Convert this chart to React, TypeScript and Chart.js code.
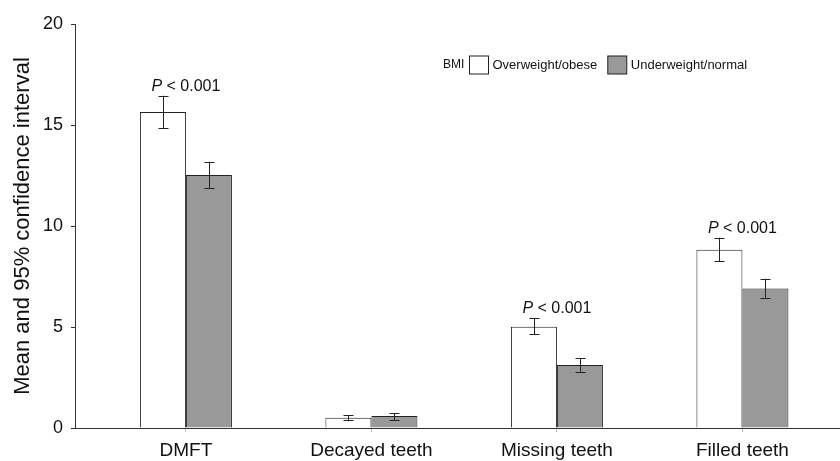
import React, { useEffect, useRef } from "react";
import { Chart, registerables } from "chart.js";

Chart.register(...registerables);

const categories = ["DMFT", "Decayed teeth", "Missing teeth", "Filled teeth"];
const seriesLabels = ["Overweight/obese", "Underweight/normal"];
const overweightMean = [15.64, 0.51, 5.01, 8.83];
const overweightLow = [14.85, 0.4, 4.65, 8.25];
const overweightHigh = [16.45, 0.64, 5.43, 9.42];
const underweightMean = [12.52, 0.59, 3.12, 6.91];
const underweightLow = [11.86, 0.38, 2.79, 6.45];
const underweightHigh = [13.18, 0.74, 3.47, 7.39];
const pLabels = ["< 0.001", "", "< 0.001", "< 0.001"];
const yTicks = [0, 5, 10, 15, 20];
const legendTitle = "BMI";
const yTitle = "Mean and 95% confidence interval";

const FONT = "'Liberation Sans', Arial, Helvetica, sans-serif";
const TEXT = "#111111";
const LINE = "#222222";
const GRAY = "#999999";

const lows = [overweightLow, underweightLow];
const highs = [overweightHigh, underweightHigh];

const errorBarPlugin = {
  id: "errorBars",
  afterDatasetsDraw(chart: any) {
    const ctx = chart.ctx;
    const y = chart.scales.y;
    const x = chart.scales.x;
    ctx.save();
    ctx.strokeStyle = "#222222";
    ctx.lineWidth = 1;
    chart.data.datasets.forEach((_: any, d: number) => {
      const meta = chart.getDatasetMeta(d);
      meta.data.forEach((el: any, i: number) => {
        const cx = Math.round(el.x) + 0.5;
        const yl = y.getPixelForValue(lows[d][i]);
        const yh = y.getPixelForValue(highs[d][i]);
        ctx.beginPath();
        ctx.moveTo(cx, yl);
        ctx.lineTo(cx, yh);
        ctx.moveTo(cx - 5, Math.round(yl) + 0.5);
        ctx.lineTo(cx + 5, Math.round(yl) + 0.5);
        ctx.moveTo(cx - 5, Math.round(yh) + 0.5);
        ctx.lineTo(cx + 5, Math.round(yh) + 0.5);
        ctx.stroke();
      });
    });
    // P labels
    ctx.fillStyle = TEXT;
    ctx.textBaseline = "alphabetic";
    ctx.textAlign = "left";
    categories.forEach((_, i) => {
      if (!pLabels[i]) return;
      const top = Math.max(overweightHigh[i], underweightHigh[i]);
      const baseY = y.getPixelForValue(top) - 5;
      const cx = x.getPixelForValue(i);
      ctx.font = `italic 16px ${FONT}`;
      const wP = ctx.measureText("P").width;
      ctx.font = `16px ${FONT}`;
      const rest = " " + pLabels[i];
      const wR = ctx.measureText(rest).width;
      const start = cx - (wP + wR) / 2;
      ctx.font = `italic 16px ${FONT}`;
      ctx.fillText("P", start, baseY);
      ctx.font = `16px ${FONT}`;
      ctx.fillText(rest, start + wP, baseY);
    });
    ctx.restore();
  },
};

const legendPlugin = {
  id: "customLegend",
  afterDraw(chart: any) {
    const ctx = chart.ctx;
    ctx.save();
    ctx.textBaseline = "middle";
    ctx.textAlign = "left";
    ctx.fillStyle = TEXT;
    const cy = 65;
    ctx.font = `12px ${FONT}`;
    ctx.fillText(legendTitle, 443, cy);
    let x = 469.5;
    ctx.font = `13px ${FONT}`;
    chart.data.datasets.forEach((ds: any) => {
      ctx.fillStyle = ds.backgroundColor;
      ctx.fillRect(x, cy - 9, 19, 18);
      ctx.strokeStyle = LINE;
      ctx.lineWidth = 1;
      ctx.strokeRect(x, cy - 9, 19, 18);
      ctx.fillStyle = TEXT;
      ctx.fillText(ds.label, x + 23, cy);
      x += 23 + ctx.measureText(ds.label).width + 10.5;
    });
    ctx.restore();
  },
};

export default function App() {
  const ref = useRef<HTMLCanvasElement | null>(null);
  useEffect(() => {
    document.body.style.margin = "0";
    if (!ref.current) return;
    const chart = new Chart(ref.current, {
      type: "bar",
      data: {
        datasets: [
          {
            label: seriesLabels[0],
            data: overweightMean.map((v, i) => ({ x: i, y: v })),
            backgroundColor: "#ffffff",
            borderColor: LINE,
            borderWidth: 1,
          },
          {
            label: seriesLabels[1],
            data: underweightMean.map((v, i) => ({ x: i, y: v })),
            backgroundColor: GRAY,
            borderColor: LINE,
            borderWidth: 1,
          },
        ],
      },
      options: {
        animation: false,
        responsive: false,
        devicePixelRatio: 1,
        categoryPercentage: 0.496,
        barPercentage: 1,
        layout: { padding: { top: 24, right: 0, left: 0, bottom: 0 } },
        plugins: {
          legend: { display: false },
          tooltip: { enabled: false },
        },
        scales: {
          x: {
            type: "linear",
            offset: false,
            min: -0.598,
            max: 3.526,
            afterBuildTicks: (scale: any) => {
              scale.ticks = categories.map((_, i) => ({ value: i }));
            },
            afterFit: (scale: any) => {
              scale.height = 33;
            },
            ticks: {
              callback: (v: any) => categories[v] ?? "",
              font: { family: FONT, size: 19 },
              color: TEXT,
              padding: 7,
              maxRotation: 0,
              autoSkip: false,
            },
            grid: {
              offset: false,
              drawOnChartArea: false,
              drawTicks: true,
              tickLength: 4,
              color: "#bbbbbb",
            },
            border: { display: true, color: "#333333", width: 1 },
          },
          y: {
            min: 0,
            max: 20,
            afterBuildTicks: (scale: any) => {
              scale.ticks = yTicks.map((v) => ({ value: v }));
            },
            afterFit: (scale: any) => {
              scale.width = 75;
            },
            ticks: {
              font: { family: FONT, size: 18 },
              color: TEXT,
              padding: 8,
            },
            grid: {
              drawOnChartArea: false,
              drawTicks: true,
              tickLength: 4,
              color: "#333333",
            },
            border: { display: true, color: "#333333", width: 1 },
            title: {
              display: true,
              text: yTitle,
              font: { family: FONT, size: 22 },
              color: TEXT,
              padding: { top: 10, bottom: 0 },
            },
          },
        },
      },
      plugins: [errorBarPlugin, legendPlugin],
    } as any);
    return () => chart.destroy();
  }, []);
  return (
    <div style={{ width: 840, height: 461 }}>
      <canvas ref={ref} width={840} height={461} style={{ display: "block" }} />
    </div>
  );
}
